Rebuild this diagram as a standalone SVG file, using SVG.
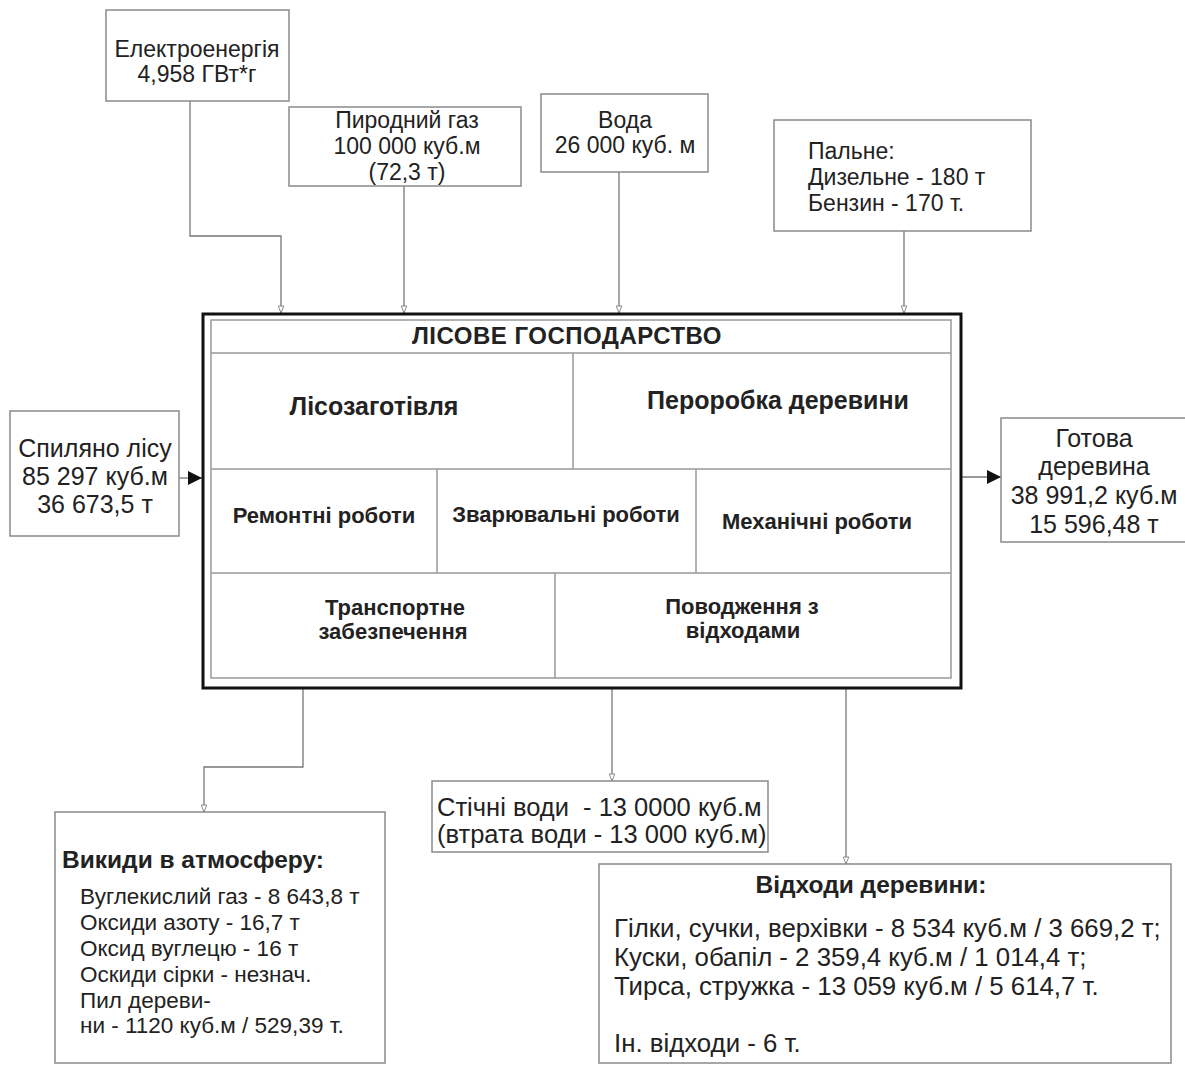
<svg xmlns="http://www.w3.org/2000/svg" width="1185" height="1066" viewBox="0 0 1185 1066">
<style>
  .box{fill:#fff;stroke:#8a8a8a;stroke-width:1.5}
  .t{font-family:"Liberation Sans",Arial,sans-serif;font-size:23px;fill:#222}
  .c{text-anchor:middle}
  .b{font-weight:bold}
  .big{font-size:25px}
  .lg{font-size:25.8px}
  .sm{font-size:22.5px}
  .ww{font-size:25.5px}
  .hd{font-size:24.5px}
  .cell{font-family:"Liberation Sans",Arial,sans-serif;font-weight:bold;font-size:22px;fill:#222;text-anchor:middle}
  .cbig{font-size:25px}
  .ttl{font-size:24px;letter-spacing:0.5px}
  .conn{fill:none;stroke:#777;stroke-width:1.3}
  .div{stroke:#999;stroke-width:1.5}
</style>
<defs>
  <marker id="open" viewBox="0 0 10 10" refX="10" refY="5" markerUnits="userSpaceOnUse" markerWidth="10" markerHeight="7" orient="auto">
    <path d="M0,1 L10,5 L0,9 z" fill="#fff" stroke="#777" stroke-width="1.2"/>
  </marker>
  <marker id="solid" viewBox="0 0 10 10" refX="10" refY="5" markerUnits="userSpaceOnUse" markerWidth="24" markerHeight="14" orient="auto">
    <path d="M0,0 L10,5 L0,10 z" fill="#111"/>
  </marker>
</defs>
<rect width="1185" height="1066" fill="#fff"/>

<g id="connectors">
  <path class="conn" d="M190,101 V236 H281 V313" marker-end="url(#open)"/>
  <path class="conn" d="M404,186 V313" marker-end="url(#open)"/>
  <path class="conn" d="M619,172 V313" marker-end="url(#open)"/>
  <path class="conn" d="M904,231 V313" marker-end="url(#open)"/>
  <path class="conn" d="M179,478 H202" marker-end="url(#solid)"/>
  <path class="conn" d="M962,477 H1001" marker-end="url(#solid)"/>
  <path class="conn" d="M303,688 V767 H204 V812" marker-end="url(#open)"/>
  <path class="conn" d="M612,688 V781" marker-end="url(#open)"/>
  <path class="conn" d="M846,688 V864" marker-end="url(#open)"/>
</g>

<g id="electricity">
  <rect class="box" x="106" y="10" width="183" height="91"/>
  <text class="t c" x="197" y="57">Електроенергія</text>
  <text class="t c" x="197" y="82">4,958 ГВт*г</text>
</g>

<g id="gas">
  <rect class="box" x="289" y="107" width="232" height="79"/>
  <text class="t c" x="407" y="128">Пиродний газ</text>
  <text class="t c" x="407" y="154">100 000 куб.м</text>
  <text class="t c" x="407" y="180">(72,3 т)</text>
</g>

<g id="water">
  <rect class="box" x="541" y="94" width="167" height="78"/>
  <text class="t c" x="625" y="128">Вода</text>
  <text class="t c" x="625" y="153">26 000 куб. м</text>
</g>

<g id="fuel">
  <rect class="box" x="774" y="120" width="257" height="111"/>
  <text class="t" x="808" y="159">Пальне:</text>
  <text class="t" x="808" y="185">Дизельне - 180 т</text>
  <text class="t" x="808" y="211">Бензин - 170 т.</text>
</g>

<g id="cut-forest">
  <rect class="box" x="10" y="411" width="169" height="125"/>
  <text class="t c big" x="95" y="457">Спиляно лісу</text>
  <text class="t c big" x="95" y="485">85 297 куб.м</text>
  <text class="t c big" x="95" y="513">36 673,5 т</text>
</g>

<g id="finished-wood">
  <rect class="box" x="1001" y="418" width="190" height="124"/>
  <text class="t c big" x="1094" y="447">Готова</text>
  <text class="t c big" x="1094" y="475">деревина</text>
  <text class="t c big" x="1094" y="504">38 991,2 куб.м</text>
  <text class="t c big" x="1094" y="533">15 596,48 т</text>
</g>

<g id="forestry">
  <rect x="203" y="314" width="758" height="374" fill="#fff" stroke="#111" stroke-width="3"/>
  <rect x="211" y="320" width="740" height="358" fill="none" stroke="#999" stroke-width="1.5"/>
  <line class="div" x1="211" y1="353" x2="951" y2="353"/>
  <line class="div" x1="211" y1="469" x2="951" y2="469"/>
  <line class="div" x1="211" y1="573" x2="951" y2="573"/>
  <line class="div" x1="573" y1="353" x2="573" y2="469"/>
  <line class="div" x1="437" y1="469" x2="437" y2="573"/>
  <line class="div" x1="696" y1="469" x2="696" y2="573"/>
  <line class="div" x1="555" y1="573" x2="555" y2="678"/>
  <text class="cell ttl" x="567" y="344">ЛІСОВЕ ГОСПОДАРСТВО</text>
  <text class="cell cbig" x="374" y="415">Лісозаготівля</text>
  <text class="cell cbig" x="778" y="409">Пероробка деревини</text>
  <text class="cell" x="324" y="523">Ремонтні роботи</text>
  <text class="cell" x="566" y="522">Зварювальні роботи</text>
  <text class="cell" x="817" y="529">Механічні роботи</text>
  <text class="cell" x="395" y="615">Транспортне</text>
  <text class="cell" x="393" y="639">забезпечення</text>
  <text class="cell" x="742" y="614">Поводження з</text>
  <text class="cell" x="743" y="638">відходами</text>
</g>

<g id="emissions">
  <rect class="box" x="55" y="812" width="330" height="251"/>
  <text class="t b hd" x="62" y="868">Викиди в атмосферу:</text>
  <text class="t sm" x="80" y="904">Вуглекислий газ - 8 643,8 т</text>
  <text class="t sm" x="80" y="930">Оксиди азоту - 16,7 т</text>
  <text class="t sm" x="80" y="956">Оксид вуглецю - 16 т</text>
  <text class="t sm" x="80" y="982">Оскиди сірки - незнач.</text>
  <text class="t sm" x="80" y="1008">Пил дереви-</text>
  <text class="t sm" x="80" y="1033">ни - 1120 куб.м / 529,39 т.</text>
</g>

<g id="wastewater">
  <rect class="box" x="432" y="781" width="336" height="71"/>
  <text class="t ww" x="437" y="816" xml:space="preserve">Стічні води  - 13 0000 куб.м</text>
  <text class="t ww" x="437" y="843">(втрата води - 13 000 куб.м)</text>
</g>

<g id="wood-waste">
  <rect class="box" x="599" y="864" width="572" height="199"/>
  <text class="t b c hd" x="871" y="893">Відходи деревини:</text>
  <text class="t lg" x="614" y="937">Гілки, сучки, верхівки - 8 534 куб.м / 3 669,2 т;</text>
  <text class="t lg" x="614" y="966">Куски, обапіл - 2 359,4 куб.м / 1 014,4 т;</text>
  <text class="t lg" x="614" y="995">Тирса, стружка - 13 059 куб.м / 5 614,7 т.</text>
  <text class="t lg" x="614" y="1052">Ін. відходи - 6 т.</text>
</g>
</svg>
